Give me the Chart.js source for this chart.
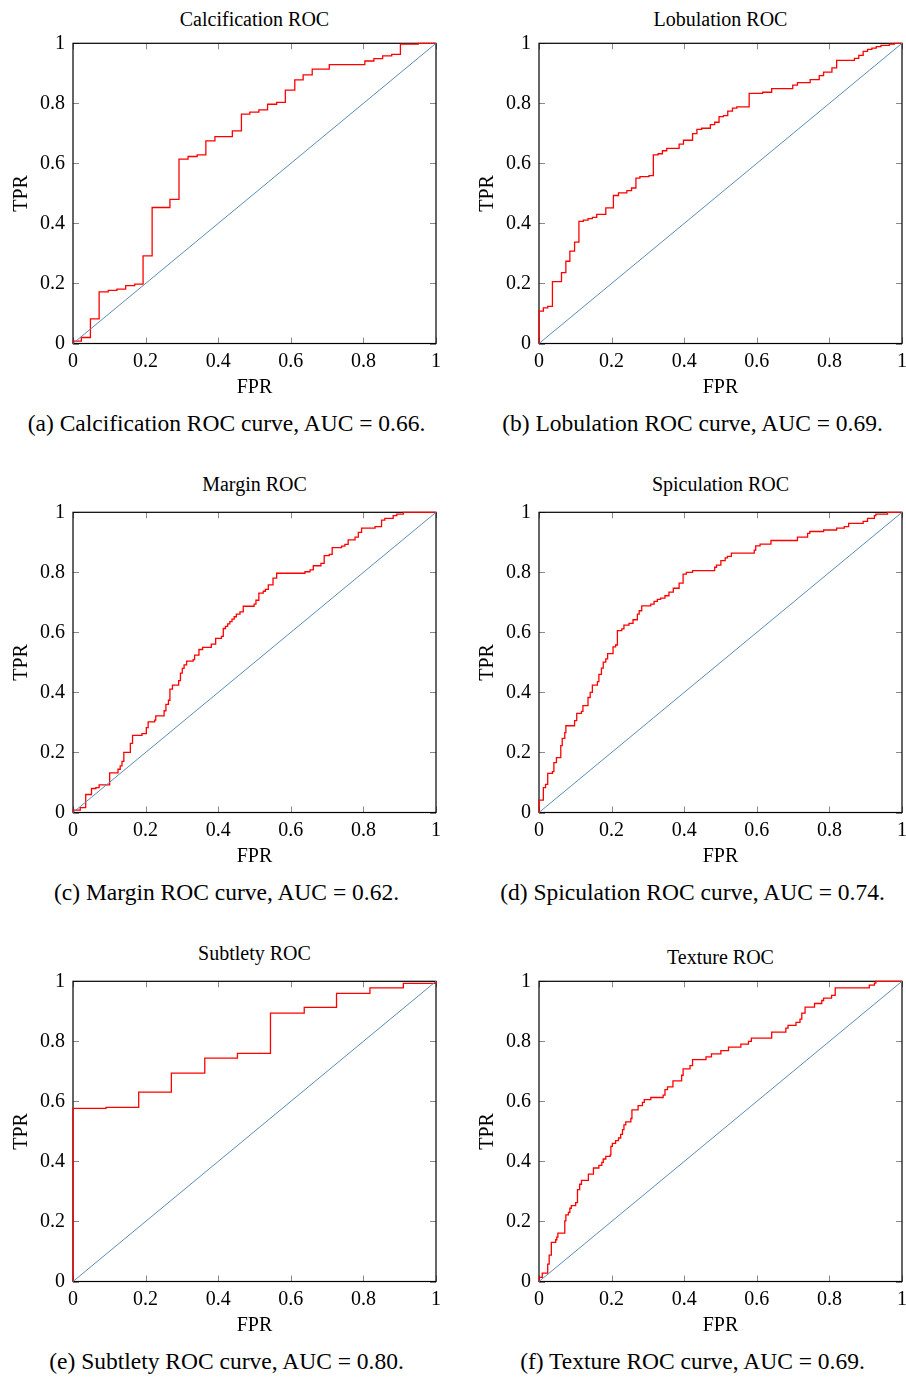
<!DOCTYPE html>
<html>
<head>
<meta charset="utf-8">
<title>ROC curves</title>
<script src="https://cdn.jsdelivr.net/npm/chart.js@4.4.1/dist/chart.umd.min.js"></script>
<style>
    html, body { margin: 0; padding: 0; background: #fff; }
    body { width: 906px; height: 1377px; position: relative; overflow: hidden;
           font-family: "Liberation Serif", "Times New Roman", serif; color: #000; }
    .panel { position: absolute; width: 453px; height: 469px; }
    .panel canvas { position: absolute; left: 0; top: 30px; }
    .title { position: absolute; left: 73px; width: 363px; top: 7px; text-align: center;
             font-size: 20px; line-height: 24px; white-space: nowrap; }
    .title.low { top: 2.7px; }
    .caption { position: absolute; left: 0; width: 453px; top: 409px; text-align: center;
               font-size: 23.5px; line-height: 28px; white-space: nowrap; }
</style>
</head>
<body>

<div class="panel" style="left:0px; top:0px;">
    <div class="title">Calcification ROC</div>
    <canvas id="calcificationRoc" width="442" height="370"></canvas>
    <div class="caption">(a) Calcification ROC curve, AUC = 0.66.</div>
</div>
<div class="panel" style="left:466px; top:0px;">
    <div class="title">Lobulation ROC</div>
    <canvas id="lobulationRoc" width="442" height="370"></canvas>
    <div class="caption">(b) Lobulation ROC curve, AUC = 0.69.</div>
</div>
<div class="panel" style="left:0px; top:469px;">
    <div class="title low">Margin ROC</div>
    <canvas id="marginRoc" width="442" height="370"></canvas>
    <div class="caption">(c) Margin ROC curve, AUC = 0.62.</div>
</div>
<div class="panel" style="left:466px; top:469px;">
    <div class="title low">Spiculation ROC</div>
    <canvas id="spiculationRoc" width="442" height="370"></canvas>
    <div class="caption">(d) Spiculation ROC curve, AUC = 0.74.</div>
</div>
<div class="panel" style="left:0px; top:938px;">
    <div class="title low">Subtlety ROC</div>
    <canvas id="subtletyRoc" width="442" height="370"></canvas>
    <div class="caption">(e) Subtlety ROC curve, AUC = 0.80.</div>
</div>
<div class="panel" style="left:466px; top:938px;">
    <div class="title">Texture ROC</div>
    <canvas id="textureRoc" width="442" height="370"></canvas>
    <div class="caption">(f) Texture ROC curve, AUC = 0.69.</div>
</div>

<script>
// axis ticks (same on both axes)
const rateTicks = [0, 0.2, 0.4, 0.6, 0.8, 1];

// chance line
const chanceFpr = [0, 1];
const chanceTpr = [0, 1];

// (a) calcification
const calcFpr = [0, 0, 0.023, 0.048, 0.072, 0.097, 0.121, 0.145, 0.170, 0.193, 0.218, 0.267, 0.292, 0.317,
    0.342, 0.366, 0.391, 0.439, 0.464, 0.487, 0.512, 0.536, 0.561, 0.585, 0.611, 0.634, 0.659, 0.706,
    0.804, 0.829, 0.853, 0.878, 0.902, 0.951, 1];
const calcTpr = [0, 0.008, 0.020, 0.082, 0.172, 0.177, 0.181, 0.193, 0.198, 0.292, 0.453, 0.480, 0.614, 0.623,
    0.628, 0.675, 0.689, 0.708, 0.764, 0.771, 0.778, 0.797, 0.803, 0.844, 0.878, 0.895, 0.914, 0.929,
    0.941, 0.949, 0.958, 0.963, 0.997, 1, 1];

// (b) lobulation
const lobFpr = [0, 0, 0.012, 0.024, 0.037, 0.062, 0.074, 0.085, 0.098, 0.110, 0.122, 0.135, 0.147, 0.159,
    0.184, 0.205, 0.219, 0.242, 0.255, 0.267, 0.278, 0.303, 0.315, 0.328, 0.340, 0.352, 0.386, 0.398,
    0.423, 0.435, 0.448, 0.472, 0.484, 0.496, 0.508, 0.520, 0.533, 0.545, 0.579, 0.616, 0.641, 0.699,
    0.712, 0.747, 0.772, 0.784, 0.807, 0.820, 0.869, 0.881, 0.893, 0.905, 0.917, 0.929, 0.942, 0.965,
    0.979, 1];
const lobTpr = [0, 0.108, 0.119, 0.124, 0.206, 0.236, 0.274, 0.308, 0.338, 0.407, 0.411, 0.416, 0.420, 0.430,
    0.452, 0.493, 0.502, 0.509, 0.518, 0.551, 0.556, 0.559, 0.628, 0.632, 0.642, 0.650, 0.664, 0.677,
    0.699, 0.713, 0.717, 0.729, 0.737, 0.756, 0.759, 0.774, 0.784, 0.788, 0.833, 0.837, 0.849, 0.861,
    0.869, 0.879, 0.892, 0.904, 0.918, 0.943, 0.950, 0.960, 0.973, 0.980, 0.984, 0.989, 0.993, 0.997,
    1, 1];

// (c) margin
const marginFpr = [0, 0, 0.020, 0.035, 0.051, 0.063, 0.072, 0.101, 0.124, 0.130, 0.135, 0.140, 0.158, 0.164,
    0.190, 0.202, 0.207, 0.225, 0.228, 0.251, 0.256, 0.263, 0.267, 0.274, 0.291, 0.296, 0.301, 0.306,
    0.313, 0.331, 0.335, 0.347, 0.357, 0.381, 0.393, 0.409, 0.414, 0.420, 0.426, 0.432, 0.438, 0.444,
    0.450, 0.460, 0.469, 0.499, 0.504, 0.512, 0.524, 0.530, 0.538, 0.551, 0.561, 0.639, 0.653, 0.662,
    0.683, 0.692, 0.706, 0.714, 0.740, 0.749, 0.758, 0.777, 0.786, 0.795, 0.832, 0.850, 0.859, 0.882,
    0.892, 0.910, 1];
const marginTpr = [0, 0.008, 0.016, 0.060, 0.080, 0.083, 0.092, 0.132, 0.144, 0.155, 0.170, 0.200, 0.230, 0.257,
    0.263, 0.283, 0.302, 0.308, 0.322, 0.339, 0.360, 0.374, 0.411, 0.424, 0.439, 0.464, 0.480, 0.492,
    0.504, 0.509, 0.524, 0.543, 0.550, 0.561, 0.580, 0.587, 0.613, 0.620, 0.628, 0.636, 0.644, 0.652,
    0.661, 0.668, 0.687, 0.694, 0.707, 0.731, 0.737, 0.743, 0.758, 0.781, 0.797, 0.802, 0.808, 0.822,
    0.830, 0.856, 0.860, 0.882, 0.887, 0.893, 0.908, 0.917, 0.933, 0.947, 0.952, 0.974, 0.980, 0.989,
    0.994, 1, 1];

// (d) spiculation
const spicFpr = [0, 0, 0.012, 0.018, 0.024, 0.037, 0.041, 0.048, 0.060, 0.064, 0.071, 0.074, 0.098, 0.104,
    0.117, 0.121, 0.135, 0.141, 0.147, 0.161, 0.165, 0.172, 0.177, 0.184, 0.189, 0.204, 0.211, 0.216,
    0.228, 0.234, 0.248, 0.259, 0.271, 0.276, 0.283, 0.308, 0.317, 0.326, 0.335, 0.347, 0.358, 0.370,
    0.386, 0.397, 0.406, 0.423, 0.484, 0.489, 0.501, 0.513, 0.519, 0.530, 0.593, 0.597, 0.609, 0.639,
    0.712, 0.740, 0.746, 0.784, 0.820, 0.841, 0.853, 0.893, 0.905, 0.924, 0.928, 0.960, 1];
const spicTpr = [0, 0.041, 0.083, 0.094, 0.130, 0.136, 0.166, 0.183, 0.223, 0.247, 0.266, 0.289, 0.306, 0.330,
    0.337, 0.356, 0.383, 0.400, 0.424, 0.436, 0.460, 0.481, 0.501, 0.512, 0.529, 0.552, 0.558, 0.606,
    0.612, 0.624, 0.630, 0.642, 0.661, 0.672, 0.688, 0.694, 0.703, 0.710, 0.714, 0.722, 0.734, 0.747,
    0.764, 0.794, 0.800, 0.806, 0.817, 0.824, 0.839, 0.848, 0.853, 0.864, 0.874, 0.888, 0.894, 0.906,
    0.917, 0.930, 0.936, 0.941, 0.947, 0.952, 0.963, 0.970, 0.980, 0.989, 0.994, 1, 1];

// (e) subtlety
const subtFpr = [0, 0, 0.091, 0.181, 0.271, 0.363, 0.453, 0.544, 0.637, 0.726, 0.818, 0.910, 1];
const subtTpr = [0, 0.577, 0.580, 0.631, 0.694, 0.744, 0.760, 0.894, 0.913, 0.960, 0.978, 0.993, 1];

// (f) texture
const textureFpr = [0, 0, 0.009, 0.024, 0.028, 0.034, 0.046, 0.049, 0.052, 0.071, 0.074, 0.081, 0.085, 0.089,
    0.101, 0.106, 0.112, 0.117, 0.136, 0.150, 0.165, 0.173, 0.177, 0.184, 0.196, 0.198, 0.202, 0.211,
    0.219, 0.225, 0.230, 0.234, 0.239, 0.253, 0.256, 0.273, 0.285, 0.290, 0.308, 0.342, 0.347, 0.354,
    0.369, 0.393, 0.397, 0.416, 0.423, 0.460, 0.475, 0.501, 0.522, 0.556, 0.577, 0.585, 0.641, 0.680,
    0.686, 0.708, 0.719, 0.724, 0.733, 0.759, 0.779, 0.784, 0.806, 0.816, 0.910, 0.924, 0.928, 1];
const textureTpr = [0, 0.014, 0.028, 0.058, 0.088, 0.130, 0.139, 0.148, 0.161, 0.202, 0.222, 0.230, 0.244, 0.253,
    0.263, 0.306, 0.324, 0.337, 0.358, 0.378, 0.387, 0.397, 0.408, 0.417, 0.422, 0.450, 0.460, 0.469,
    0.478, 0.490, 0.506, 0.522, 0.532, 0.543, 0.572, 0.586, 0.597, 0.606, 0.613, 0.621, 0.639, 0.648,
    0.668, 0.687, 0.708, 0.719, 0.739, 0.748, 0.758, 0.769, 0.781, 0.791, 0.800, 0.811, 0.831, 0.844,
    0.853, 0.863, 0.874, 0.894, 0.914, 0.926, 0.936, 0.944, 0.953, 0.978, 0.987, 0.994, 1, 1];

const serif = "'Liberation Serif', 'Times New Roman', serif";
const axisFont = { family: serif, size: 20 };

// pgfplots-like box with short ticks pointing inwards on all four sides
const frameTicks = {
    id: 'frameTicks',
    beforeDatasetsDraw(chart) {
        const { ctx, chartArea: a, scales } = chart;
        const len = 6;
        ctx.save();
        ctx.strokeStyle = '#8a8a8a';
        ctx.lineWidth = 1;
        ctx.beginPath();
        scales.x.ticks.forEach((t) => {
            const px = Math.round(scales.x.getPixelForValue(t.value)) + 0.5;
            ctx.moveTo(px, a.bottom); ctx.lineTo(px, a.bottom - len);
            ctx.moveTo(px, a.top); ctx.lineTo(px, a.top + len);
        });
        scales.y.ticks.forEach((t) => {
            const py = Math.round(scales.y.getPixelForValue(t.value)) + 0.5;
            ctx.moveTo(a.left, py); ctx.lineTo(a.left + len, py);
            ctx.moveTo(a.right, py); ctx.lineTo(a.right - len, py);
        });
        ctx.stroke();
        ctx.strokeStyle = '#000';
        ctx.lineWidth = 1.2;
        ctx.strokeRect(a.left, a.top, a.right - a.left, a.bottom - a.top);
        ctx.restore();
    }
};

function fmtTick(value) {
    return String(Number(value.toFixed(1)));
}

function toPoints(xs, ys) {
    return xs.map((x, i) => ({ x: x, y: ys[i] }));
}

function drawRoc(canvasId, fpr, tpr) {
    const ctx = document.getElementById(canvasId).getContext("2d");
    return new Chart(ctx, {
        type: 'line',
        data: {
            datasets: [
                {
                    data: toPoints(chanceFpr, chanceTpr),
                    borderColor: '#5b8cb6', borderWidth: 1,
                    pointRadius: 0, clip: 2
                },
                {
                    // horizontal first, then up: the usual ROC staircase
                    data: toPoints(fpr, tpr),
                    borderColor: '#ff0000', borderWidth: 1.3,
                    pointRadius: 0, stepped: 'before', clip: 2
                },
            ]
        },
        options: {
            responsive: false, animation: false,
            layout: { padding: { top: 13.3, right: 6, left: 0, bottom: 0 } },
            plugins: { legend: { display: false }, tooltip: { enabled: false } },
            scales: {
                x: {
                    type: 'linear', min: 0, max: 1,
                    grid: { display: false, drawTicks: false }, border: { display: false },
                    afterBuildTicks: (scale) => { scale.ticks = rateTicks.map(v => ({ value: v })); },
                    ticks: { padding: 6, color: '#000', font: axisFont, maxRotation: 0, callback: fmtTick },
                    title: { display: true, text: 'FPR', color: '#000', font: axisFont, padding: { top: 0, bottom: 0 } },
                    afterFit: (scale) => {
                        scale.height = 56.5;
                        scale.paddingLeft = 0; scale.paddingRight = 0;
                    }
                },
                y: {
                    type: 'linear', min: 0, max: 1,
                    grid: { display: false, drawTicks: false }, border: { display: false },
                    afterBuildTicks: (scale) => { scale.ticks = rateTicks.map(v => ({ value: v })); },
                    ticks: { padding: 8, color: '#000', font: axisFont, callback: fmtTick },
                    title: { display: true, text: 'TPR', color: '#000', font: axisFont, padding: { top: 10, bottom: 0 } },
                    afterFit: (scale) => {
                        scale.width = 73;
                        scale.paddingTop = 0; scale.paddingBottom = 0;
                    }
                }
            }
        },
        plugins: [frameTicks]
    });
}

drawRoc("calcificationRoc", calcFpr, calcTpr);
drawRoc("lobulationRoc", lobFpr, lobTpr);
drawRoc("marginRoc", marginFpr, marginTpr);
drawRoc("spiculationRoc", spicFpr, spicTpr);
drawRoc("subtletyRoc", subtFpr, subtTpr);
drawRoc("textureRoc", textureFpr, textureTpr);
</script>
</body>
</html>
